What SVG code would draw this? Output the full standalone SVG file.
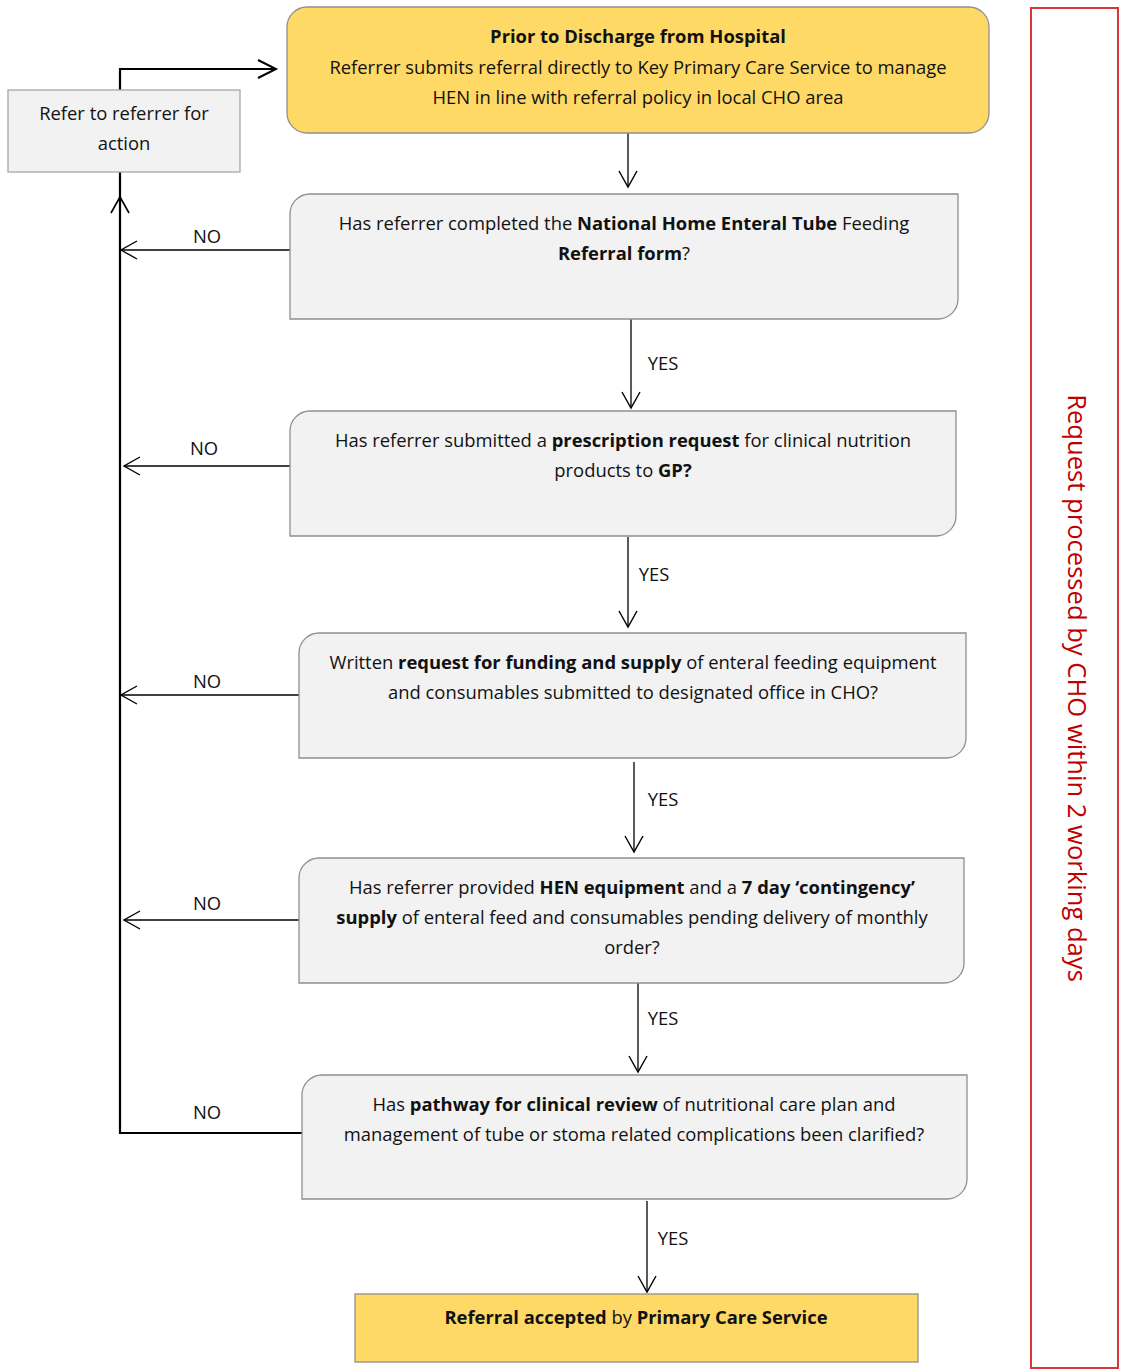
<svg xmlns="http://www.w3.org/2000/svg" width="1121" height="1371" viewBox="0 0 1121 1371">
  <style>
    text { font-family: "Open Sans", "Noto Sans", "Liberation Sans", sans-serif; font-size: 18.4px; fill: #111; text-anchor: middle; }
    .b { font-weight: bold; }
    .start { fill: #FFD966; stroke: #8F8F8F; stroke-width: 1.3; }
    .dec { fill: #F2F2F2; stroke: #8F8F8F; stroke-width: 1.3; }
    .grey { fill: #F2F2F2; stroke: #A6A6A6; stroke-width: 1.3; }
    .thin { fill: none; stroke: #000; stroke-width: 1.3; }
    .thick { fill: none; stroke: #000; stroke-width: 2.2; }
    .frame { fill: none; stroke: #D8363A; stroke-width: 2; }
    .side { font-size: 25.6px; fill: #C00000; }
  </style>
  <defs>
    <marker id="open" markerUnits="userSpaceOnUse" markerWidth="24" markerHeight="24" viewBox="-20 -12 24 24" refX="0" refY="0" orient="auto">
      <path d="M-16,-9 L0,0 L-16,9" fill="none" stroke="#000" stroke-width="1.4"/>
    </marker>
    <marker id="openBold" markerUnits="userSpaceOnUse" markerWidth="26" markerHeight="26" viewBox="-22 -13 26 26" refX="0" refY="0" orient="auto">
      <path d="M-18,-9 L0,0 L-18,9" fill="none" stroke="#000" stroke-width="2"/>
    </marker>
  </defs>

  <!-- processing time frame -->
  <g id="time-frame">
    <rect class="frame" x="1031" y="8" width="87" height="1360"/>
    <text class="side" transform="translate(1077,688) rotate(90)" dy="9">Request processed by CHO within 2 working days</text>
  </g>

  <g id="connectors">
    <!-- return loop to start -->
    <path class="thick" d="M120,90 V69 H276" marker-end="url(#openBold)"/>
    <path class="thick" d="M302,1133 H120 V172"/>
    <path d="M111,213 L120,197 L129,213" fill="none" stroke="#000" stroke-width="1.6"/>
    <!-- NO branches -->
    <path class="thin" d="M290,250 H121" marker-end="url(#open)"/>
    <path class="thin" d="M290,466 H124" marker-end="url(#open)"/>
    <path class="thin" d="M299,695 H121" marker-end="url(#open)"/>
    <path class="thin" d="M299,920 H124" marker-end="url(#open)"/>
    <text x="207" y="243">NO</text>
    <text x="204" y="455">NO</text>
    <text x="207" y="688">NO</text>
    <text x="207" y="910">NO</text>
    <text x="207" y="1119">NO</text>
    <!-- YES flow -->
    <path class="thin" d="M628,133 V187" marker-end="url(#open)"/>
    <path class="thin" d="M631,319 V408" marker-end="url(#open)"/>
    <path class="thin" d="M628,537 V627" marker-end="url(#open)"/>
    <path class="thin" d="M634,762 V852" marker-end="url(#open)"/>
    <path class="thin" d="M638,983 V1072" marker-end="url(#open)"/>
    <path class="thin" d="M647,1201 V1292" marker-end="url(#open)"/>
    <text x="663" y="370">YES</text>
    <text x="654" y="581">YES</text>
    <text x="663" y="806">YES</text>
    <text x="663" y="1025">YES</text>
    <text x="673" y="1245">YES</text>
  </g>

  <g id="start">
    <rect class="start" x="287" y="7" width="702" height="126" rx="20"/>
    <text x="638" y="43" class="b">Prior to Discharge from Hospital</text>
    <text x="638" y="74">Referrer submits referral directly to Key Primary Care Service to manage</text>
    <text x="638" y="104">HEN in line with referral policy in local CHO area</text>
  </g>

  <g id="refer-back">
    <rect class="grey" x="8" y="90" width="232" height="82"/>
    <text x="124" y="120">Refer to referrer for</text>
    <text x="124" y="150">action</text>
  </g>

  <g id="referral-form">
    <path class="dec" d="M290,214 A20,20 0 0 1 310,194 H958 V299 A20,20 0 0 1 938,319 H290 Z"/>
    <text x="624" y="230">Has referrer completed the <tspan class="b">National Home Enteral Tube</tspan> Feeding</text>
    <text x="624" y="260"><tspan class="b">Referral form</tspan>?</text>
  </g>

  <g id="prescription">
    <path class="dec" d="M290,431 A20,20 0 0 1 310,411 H956 V516 A20,20 0 0 1 936,536 H290 Z"/>
    <text x="623" y="447">Has referrer submitted a <tspan class="b">prescription request</tspan> for clinical nutrition</text>
    <text x="623" y="477">products to <tspan class="b">GP?</tspan></text>
  </g>

  <g id="funding">
    <path class="dec" d="M299,653 A20,20 0 0 1 319,633 H966 V738 A20,20 0 0 1 946,758 H299 Z"/>
    <text x="633" y="669">Written <tspan class="b">request for funding and supply</tspan> of enteral feeding equipment</text>
    <text x="633" y="699">and consumables submitted to designated office in CHO?</text>
  </g>

  <g id="contingency">
    <path class="dec" d="M299,878 A20,20 0 0 1 319,858 H964 V963 A20,20 0 0 1 944,983 H299 Z"/>
    <text x="632" y="894">Has referrer provided <tspan class="b">HEN equipment</tspan> and a <tspan class="b">7 day ‘contingency’</tspan></text>
    <text x="632" y="924"><tspan class="b">supply</tspan> of enteral feed and consumables pending delivery of monthly</text>
    <text x="632" y="954">order?</text>
  </g>

  <g id="clinical-review">
    <path class="dec" d="M302,1095 A20,20 0 0 1 322,1075 H967 V1179 A20,20 0 0 1 947,1199 H302 Z"/>
    <text x="634" y="1111">Has <tspan class="b">pathway for clinical review</tspan> of nutritional care plan and</text>
    <text x="634" y="1141">management of tube or stoma related complications been clarified?</text>
  </g>

  <g id="accepted">
    <rect class="start" x="355" y="1294" width="563" height="68"/>
    <text x="636" y="1324"><tspan class="b">Referral accepted</tspan> by <tspan class="b">Primary Care Service</tspan></text>
  </g>
</svg>
